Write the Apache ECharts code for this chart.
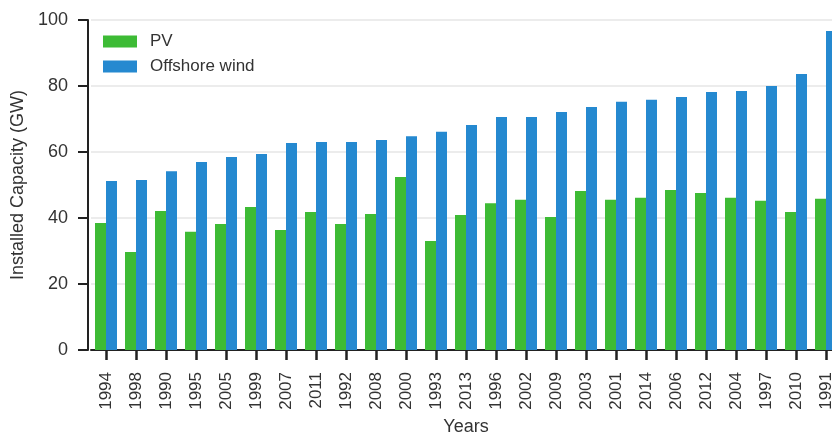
<!DOCTYPE html>
<html>
<head>
<meta charset="utf-8">
<script src="https://cdn.jsdelivr.net/npm/echarts@6/dist/echarts.min.js"></script>
<style>html,body{margin:0;padding:0;background:#fff}#c{width:832px;height:433px}</style>
</head>
<body>
<div id="c"></div>
<script>
const years = ['1994','1998','1990','1995','2005','1999','2007','2011','1992','2008','2000','1993','2013','1996','2002','2009','2003','2001','2014','2006','2012','2004','1997','2010','1991'];
const pv = [38.5,29.7,42.1,35.8,38.2,43.3,36.4,41.8,38.2,41.2,52.4,33.0,40.9,44.5,45.5,40.3,48.2,45.5,46.1,48.5,47.6,46.1,45.2,41.8,45.8];
const offshoreWind = [51.2,51.5,54.2,57.0,58.5,59.4,62.7,63.0,63.0,63.6,64.8,66.1,68.2,70.6,70.6,72.1,73.6,75.2,75.8,76.7,78.2,78.5,80.0,83.6,96.7];
const yTicks = {min:0, max:100, interval:20};

const font = 'Liberation Sans, Arial, Helvetica, sans-serif';
const chart = echarts.init(document.getElementById('c'), null, {renderer:'canvas'});
chart.setOption({
  animation:false,
  textStyle:{fontFamily:font},
  legend:{
    orient:'vertical', left:98, top:28, itemWidth:34, itemHeight:12, itemGap:8,
    icon:'rect',
    textStyle:{fontSize:17, lineHeight:16, color:'#333', fontFamily:font, padding:[0,0,0,8]},
    data:['PV','Offshore wind']
  },
  grid:{left:91, top:20, width:750, height:330, containLabel:false, outerBoundsMode:'none'},
  xAxis:{
    type:'category', data:years,
    name:'Years', nameLocation:'middle', nameGap:66,
    nameTextStyle:{fontSize:18, color:'#333', fontFamily:font},
    axisLine:{lineStyle:{color:'#222', width:2}},
    axisTick:{show:true, alignWithLabel:true, length:10, lineStyle:{color:'#222', width:2.5}},
    axisLabel:{rotate:90, fontSize:17, color:'#333', margin:22, fontFamily:font}
  },
  yAxis:{
    type:'value', min:yTicks.min, max:yTicks.max, interval:yTicks.interval, offset:3,
    name:'Installed Capacity (GW)', nameLocation:'middle', nameGap:56, nameRotate:90,
    nameTextStyle:{fontSize:18, color:'#333', fontFamily:font},
    axisLine:{show:true, lineStyle:{color:'#222', width:2}},
    axisTick:{show:true, length:10, lineStyle:{color:'#222', width:2}},
    axisLabel:{fontSize:18, color:'#333', margin:20, fontFamily:font},
    splitLine:{lineStyle:{color:'#e6e6e6', width:1.5}}
  },
  series:[
    {name:'PV', type:'bar', data:pv, barWidth:11, barGap:'0%', itemStyle:{color:'#3dbb35'}},
    {name:'Offshore wind', type:'bar', data:offshoreWind, barWidth:11, barGap:'0%', itemStyle:{color:'#2589d0'}}
  ]
});
</script>
</body>
</html>
